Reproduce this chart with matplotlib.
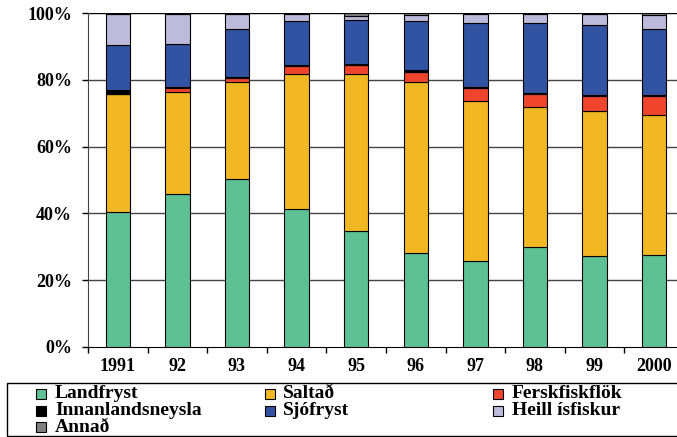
import matplotlib.pyplot as plt
from matplotlib.patches import Rectangle
import numpy as np

years = ["1991", "92", "93", "94", "95", "96", "97", "98", "99", "2000"]

# hlutdeild (%) eftir vinnslu
landfryst = [40.5, 45.8, 50.2, 41.2, 34.8, 28.0, 25.7, 29.8, 27.2, 27.5]
saltad = [35.2, 30.5, 29.3, 40.5, 47.0, 51.5, 48.0, 42.0, 43.5, 42.0]
ferskfisk = [0.0, 1.2, 1.1, 2.4, 2.7, 3.0, 3.8, 4.0, 4.4, 5.6]
innanlands = [1.3, 0.4, 0.4, 0.5, 0.3, 0.4, 0.5, 0.4, 0.3, 0.5]
sjofryst = [13.6, 12.9, 14.2, 13.0, 13.2, 14.7, 19.2, 20.9, 21.1, 19.7]
heill = [9.2, 9.0, 4.6, 2.2, 1.2, 1.9, 2.6, 2.7, 3.3, 4.3]
annad = [0.2, 0.2, 0.2, 0.2, 0.8, 0.5, 0.2, 0.2, 0.2, 0.4]

names = ["Landfryst", "Saltað", "Ferskfiskflök", "Innanlandsneysla",
         "Sjófryst", "Heill ísfiskur", "Annað"]
series = [landfryst, saltad, ferskfisk, innanlands, sjofryst, heill, annad]
colors = ["#5EC196", "#F2B824", "#F0452D", "#000000", "#3253A1", "#BDBADB", "#808080"]

plt.rcParams['font.family'] = ['Liberation Serif', 'DejaVu Serif']
plt.rcParams['font.weight'] = 'bold'

W, H = 677, 437
fig = plt.figure(figsize=(W / 100, H / 100), dpi=100)
ax = fig.add_axes([88 / W, (H - 346.7) / H, 596 / W, 333.4 / H])

x = np.arange(len(years))
bottom = np.zeros(len(years))
for vals, c in zip(series, colors):
    ax.bar(x, vals, width=0.41, bottom=bottom, color=c,
           edgecolor="black", linewidth=0.8, zorder=3)
    bottom += np.array(vals)

ax.set_xlim(-0.5, len(years) - 0.5)
ax.set_ylim(0, 100)
ax.set_yticks(np.arange(0, 101, 20))
ax.set_yticklabels([f"{v}%" for v in range(0, 101, 20)])
ax.set_xticks(x)
ax.set_xticklabels(years)
ax.set_xticks(np.arange(-0.5, len(years), 1), minor=True)
ax.tick_params(axis="x", which="major", length=0, pad=8, labelsize=13)
ax.tick_params(axis="x", which="minor", length=4, width=1, direction="out")
ax.tick_params(axis="y", length=4.5, width=1, pad=7, labelsize=13)

for v in range(20, 101, 20):
    ax.axhline(v, color="#444444" if v < 100 else "black", linewidth=1.0, zorder=1)

for s in ["top", "right"]:
    ax.spines[s].set_visible(False)
ax.spines["left"].set_color("#444444")
ax.spines["bottom"].set_color("black")

# skýringar (legend) neðst
fig.patches.append(Rectangle((7 / W, 1 / H), 700 / W, (436 - 382.5) / H,
                             transform=fig.transFigure, fill=False,
                             edgecolor="black", linewidth=1.0))
col_marker = [36, 265, 493]
col_text = [55, 283, 512]
row_y = [394, 410.5, 427]
for i, (name, c) in enumerate(zip(names, colors)):
    r, col = divmod(i, 3)
    yy = row_y[r]
    fig.patches.append(Rectangle((col_marker[col] / W, (H - yy - 5) / H), 10 / W, 10 / H,
                                 transform=fig.transFigure, facecolor=c,
                                 edgecolor="black", linewidth=0.8))
    fig.text(col_text[col] / W, (H - yy) / H, name, fontsize=14,
             fontweight="bold", va="center", ha="left")

fig.savefig("out.png", dpi=100)
